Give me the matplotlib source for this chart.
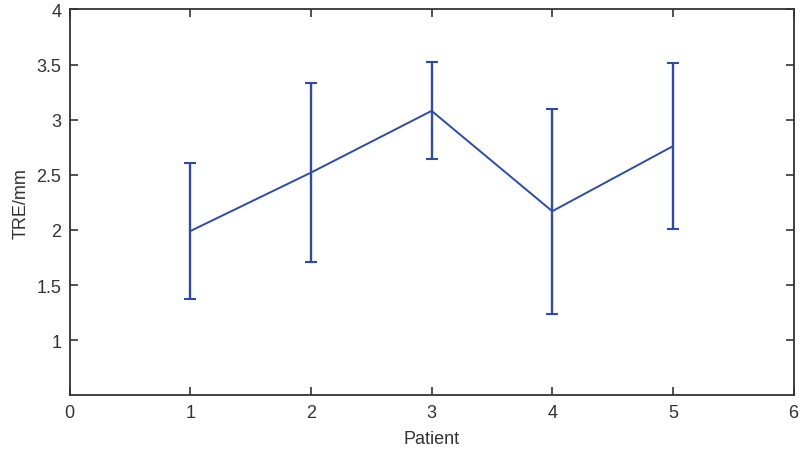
import matplotlib as mpl
mpl.use('agg')
from matplotlib import pyplot as plt

# TRE per patient
patients = [1, 2, 3, 4, 5]
tre_mean = [1.99, 2.52, 3.08, 2.17, 2.76]
tre_err = [0.62, 0.81, 0.44, 0.93, 0.75]

x_ticks = [0, 1, 2, 3, 4, 5, 6]
y_ticks = [1, 1.5, 2, 2.5, 3, 3.5, 4]
y_tick_labels = ['1', '1.5', '2', '2.5', '3', '3.5', '4']

plt.rcParams['font.family'] = ['Liberation Sans', 'DejaVu Sans']

fig = plt.figure(figsize=(8, 4.52), dpi=100)
ax = fig.add_axes([0.087, 0.123, 0.905, 0.854])

ax.errorbar(patients, tre_mean, yerr=tre_err, color='#2d4ab0', linewidth=1.4,
            elinewidth=1.7, capsize=4.5, capthick=1.5)

ax.set_xlim(0, 6)
ax.set_ylim(0.5, 4)
ax.set_xticks(x_ticks)
ax.set_yticks(y_ticks)
ax.set_yticklabels(y_tick_labels)
ax.tick_params(direction='in', length=6, width=1.2, top=True, right=True,
               labelsize=13, colors='#333333', pad=6)
for spine in ax.spines.values():
    spine.set_linewidth(1.3)
    spine.set_color('#333333')

ax.set_xlabel('Patient', fontsize=13, color='#333333', labelpad=7)
ax.set_ylabel('TRE/mm', fontsize=13, color='#333333', labelpad=5)

fig.savefig('out.png', dpi=100)
